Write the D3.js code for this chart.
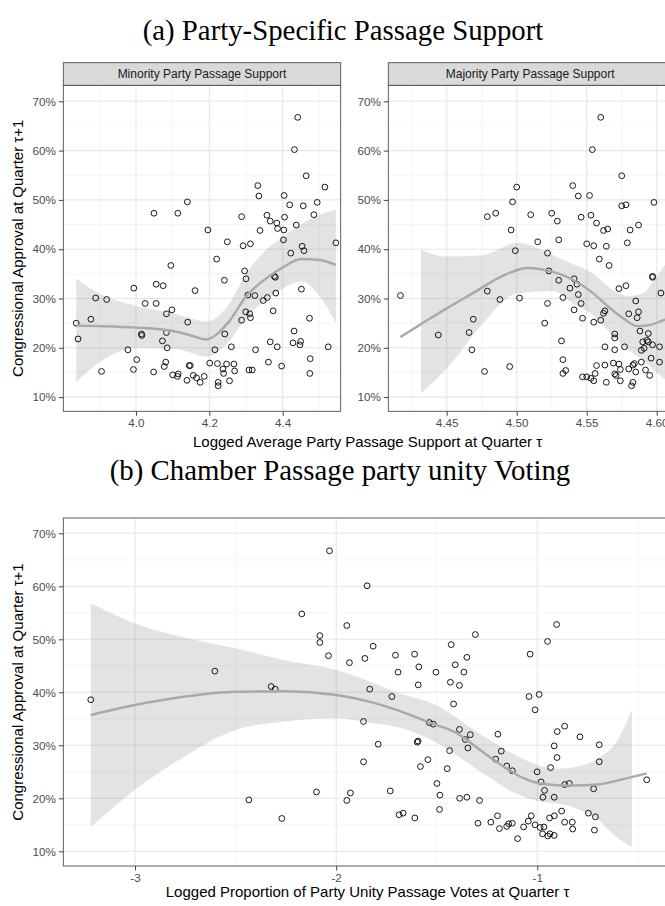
<!DOCTYPE html>
<html lang="en">
<head>
<meta charset="UTF-8">
<title>Congressional approval and passage support</title>
<style>
  body { margin: 0; background: #fff; }
  svg { display: block; }
</style>
</head>
<body>
<script src="https://d3js.org/d3.v7.min.js"></script>
<script>
// values: [x, approval %]
const minorityPoints = [
  [3.837,25.0],[3.842,21.8],[3.877,25.8],[3.890,30.1],[3.920,29.8],[3.906,15.2],[3.978,19.6],[3.994,32.1],
  [4.002,17.6],[3.993,15.6],[4.015,22.8],[4.016,22.5],[4.025,29.0],[4.055,32.9],[4.074,32.6],[4.055,29.0],
  [4.083,26.9],[4.098,27.7],[4.083,23.1],[4.072,21.4],[4.085,20.0],[4.048,15.1],[4.081,17.1],[4.077,16.2],
  [4.100,14.5],[4.115,14.7],[4.113,14.2],[4.141,25.2],[4.161,31.6],[4.145,16.4],[4.148,16.4],[4.139,13.4],
  [4.156,14.4],[4.165,13.9],[4.175,13.0],[4.186,14.2],[4.201,16.9],[4.215,19.6],[4.222,16.8],[4.224,13.0],
  [4.224,12.3],[4.237,15.7],[4.239,14.8],[4.242,22.8],[4.241,33.7],[4.247,16.7],[4.255,13.3],[4.260,20.2],
  [4.267,16.7],[4.269,15.3],[4.288,25.6],[4.296,35.6],[4.300,34.0],[4.299,27.3],[4.305,30.7],[4.310,26.9],
  [4.312,26.1],[4.308,15.5],[4.317,15.5],[4.324,30.6],[4.326,19.6],[4.347,29.6],[4.358,30.2],[4.361,17.1],
  [4.366,21.2],[4.374,27.5],[4.377,34.5],[4.380,34.3],[4.381,31.1],[4.385,20.2],[4.397,16.3],[4.428,21.0],
  [4.431,23.4],[4.451,31.9],[4.449,21.3],[4.447,20.6],[4.473,26.0],[4.475,17.8],[4.474,14.8],[4.524,20.2],
  [4.441,66.75],[4.432,60.2],[4.464,54.9],[4.515,52.6],[4.332,52.9],[4.335,50.8],[4.404,50.9],[4.419,49.0],
  [4.456,48.8],[4.494,49.5],[4.485,47.0],[4.049,47.3],[4.114,47.3],[4.140,49.6],[4.288,46.6],[4.357,46.9],
  [4.366,45.7],[4.384,45.3],[4.386,44.2],[4.403,43.9],[4.405,46.5],[4.437,44.9],[4.338,43.8],[4.196,43.9],
  [4.249,41.5],[4.292,40.7],[4.312,41.1],[4.402,41.9],[4.453,40.6],[4.458,39.7],[4.422,39.2],[4.545,41.3],
  [4.220,38.0],[4.095,36.7]
];

const majorityPoints = [
  [4.560,66.75],[4.554,60.2],[4.575,54.9],[4.598,49.5],[4.500,52.6],[4.540,52.9],[4.544,50.8],[4.552,50.9],
  [4.497,49.6],[4.575,48.8],[4.578,49.0],[4.479,46.6],[4.485,47.3],[4.510,47.0],[4.525,47.3],[4.529,45.7],
  [4.546,46.5],[4.553,46.9],[4.557,45.3],[4.496,43.9],[4.562,43.8],[4.565,44.1],[4.581,43.9],[4.587,44.9],
  [4.515,41.5],[4.530,41.9],[4.550,41.1],[4.555,40.7],[4.564,40.6],[4.579,41.3],[4.499,39.7],[4.522,39.2],
  [4.559,38.0],[4.566,36.7],
  [4.417,30.6],[4.444,22.6],[4.466,23.1],[4.469,25.8],[4.468,19.6],[4.477,15.2],[4.479,31.5],[4.488,29.8],
  [4.495,16.2],[4.502,30.1],[4.523,35.6],[4.530,33.7],[4.533,30.2],[4.520,25.0],[4.522,29.0],[4.532,21.4],
  [4.533,17.6],[4.535,15.4],[4.533,14.8],[4.538,32.1],[4.541,34.0],[4.543,32.9],[4.544,30.8],[4.541,27.7],
  [4.546,29.0],[4.547,26.0],[4.547,14.1],[4.550,14.1],[4.553,13.8],[4.555,13.3],[4.556,14.8],[4.557,16.4],
  [4.555,25.2],[4.560,25.6],[4.562,27.0],[4.563,27.5],[4.563,20.2],[4.563,16.5],[4.564,13.0],[4.570,22.8],
  [4.570,22.0],[4.570,19.6],[4.569,16.9],[4.570,14.7],[4.571,14.4],[4.573,32.0],[4.573,16.7],[4.574,15.6],
  [4.574,13.3],[4.577,20.2],[4.578,32.6],[4.580,26.9],[4.580,15.7],[4.582,12.3],[4.583,16.5],[4.584,16.8],
  [4.583,13.0],[4.585,15.1],[4.585,29.5],[4.586,26.1],[4.587,27.3],[4.588,23.4],[4.589,17.1],[4.589,19.5],
  [4.590,21.2],[4.591,19.9],[4.593,21.5],[4.592,15.5],[4.594,21.2],[4.594,22.9],[4.595,14.4],[4.596,17.9],
  [4.597,20.6],[4.597,34.5],[4.597,34.3],[4.602,20.2],[4.602,17.1],[4.603,31.1]
];

const unityPoints = [
  [-3.220,38.6],[-2.603,44.0],[-2.323,41.1],[-2.303,40.6],[-2.171,54.8],[-2.081,50.7],[-2.081,49.4],[-2.038,46.9],
  [-2.033,66.7],[-2.434,19.7],[-2.270,16.2],[-2.098,21.2],
  [-1.846,60.1],[-1.947,52.6],[-1.816,48.7],[-1.934,45.6],[-1.857,46.4],[-1.705,47.0],[-1.610,47.2],[-1.692,43.8],
  [-1.589,44.8],[-1.592,41.4],[-1.504,43.8],[-1.428,49.0],[-1.308,50.9],[-1.350,46.6],[-1.408,45.2],[-1.365,43.8],
  [-1.432,41.9],[-1.387,41.3],[-1.833,40.6],[-1.723,39.2],[-1.036,47.2],[-0.949,49.6],[-0.904,52.8],[-1.041,39.2],
  [-0.991,39.6],
  [-1.011,36.7],[-1.416,37.8],[-1.864,34.5],[-1.791,30.2],[-1.864,26.9],[-1.947,19.6],[-1.929,21.0],[-1.731,21.4],
  [-1.687,16.9],[-1.667,17.2],[-1.609,16.3],[-1.597,30.6],[-1.593,30.8],[-1.581,26.0],[-1.544,27.3],[-1.537,34.3],
  [-1.517,34.0],[-1.499,22.8],[-1.484,20.6],[-1.486,17.9],[-1.448,25.6],[-1.436,29.0],[-1.387,33.0],[-1.358,31.1],
  [-1.333,32.0],[-1.345,29.5],[-1.386,20.0],[-1.350,20.2],[-1.287,19.6],[-1.295,15.3],[-1.231,15.5],[-1.198,16.7],
  [-1.188,14.3],[-1.152,14.7],[-1.142,15.2],[-1.124,15.3],[-1.098,12.4],[-1.196,32.1],[-1.179,28.9],[-1.207,27.4],
  [-1.152,26.1],[-1.124,25.2],[-1.068,14.6],[-1.045,15.7],[-1.030,16.7],[-1.011,15.0],[-1.001,25.0],[-0.981,23.1],
  [-0.986,14.5],[-0.967,14.6],[-0.964,21.5],[-0.972,20.2],[-0.974,13.3],[-0.948,12.9],[-0.937,13.3],[-0.939,16.3],
  [-0.916,13.0],[-0.915,16.7],[-0.916,20.2],[-0.934,25.8],[-0.916,29.9],[-0.901,32.6],[-0.902,27.7],[-0.864,33.6],
  [-0.879,17.6],[-0.864,22.6],[-0.841,22.8],[-0.864,15.5],[-0.826,15.5],[-0.824,14.2],[-0.788,31.6],[-0.746,17.2],
  [-0.711,16.5],[-0.716,14.0],[-0.720,21.8],[-0.692,30.1],[-0.692,26.9],[-0.456,23.5]
];

// smoother (loess) lines and their ribbons
const minorityFitX = [3.837, 3.9, 4.0, 4.1, 4.15, 4.19, 4.25, 4.3, 4.35, 4.4, 4.45, 4.5, 4.545];
const minorityFit  = [24.5, 24.4, 24.1, 23.4, 22.5, 21.7, 25.0, 30.4, 33.8, 36.3, 38.0, 37.8, 36.8];
const minorityHi   = [34, 31, 28.5, 27, 26, 25.3, 28.5, 35, 39.5, 42.5, 45, 47, 48];
const minorityLo   = [13, 17, 20, 19.8, 19, 18.2, 21, 26, 29.5, 32, 33.5, 30.5, 25];

const majorityFitX = [4.417, 4.43, 4.45, 4.47, 4.49, 4.508, 4.52, 4.54, 4.555, 4.564, 4.576, 4.586, 4.595, 4.603, 4.611];
const majorityFit  = [22.2, 24.5, 28.0, 31.3, 34.6, 36.2, 35.8, 33.8, 31.0, 28.7, 26.0, 24.4, 24.6, 25.4, 26.3];
const majorityBandX = [4.4316, 4.45, 4.476, 4.50, 4.526, 4.54, 4.555, 4.565, 4.58, 4.59, 4.60, 4.611];
const majorityHi   = [39.9, 38.5, 38.8, 41.3, 38.8, 37.0, 35.0, 32.5, 30.5, 31.0, 34.5, 39];
const majorityLo   = [10.8, 15.8, 25.0, 31.0, 31.5, 29.0, 26.5, 23.5, 19.5, 17.5, 15.0, 12.5];

const unityFitX = [-3.22, -3.0, -2.75, -2.5, -2.25, -2.0, -1.83, -1.7, -1.53, -1.4, -1.284, -1.168, -1.069, -0.969, -0.836, -0.70, -0.587, -0.456];
const unityFit  = [35.7, 37.6, 39.2, 40.1, 40.2, 39.5, 38.2, 36.7, 34.2, 32.3, 29.1, 26.0, 23.8, 22.7, 22.4, 22.6, 23.5, 24.7];
const unityBandX = [-3.22, -3.0, -2.75, -2.5, -2.25, -2.0, -1.83, -1.7, -1.5, -1.3, -1.1, -1.0, -0.9, -0.8, -0.7, -0.6, -0.53];
const unityHi   = [56.8, 53.0, 50.3, 48.3, 46.0, 44.2, 42.0, 40.0, 37.5, 32.5, 28.0, 26.3, 25.6, 26.0, 27.5, 31.0, 36.7];
const unityLo   = [14.6, 21.6, 28.0, 32.9, 34.5, 35.1, 34.2, 33.5, 30.5, 25.5, 20.8, 19.5, 19.0, 18.0, 16.0, 12.5, 10.8];

const yTicks = [10, 20, 30, 40, 50, 60, 70];
const yMinor = [15, 25, 35, 45, 55, 65];
const minorityTicks = [4.0, 4.2, 4.4];
const minorityMinor = [3.9, 4.1, 4.3, 4.5];
const majorityTicks = [4.45, 4.50, 4.55, 4.60];
const majorityMinor = [4.425, 4.475, 4.525, 4.575];
const unityTicks = [-3, -2, -1];
const unityMinor = [-2.5, -1.5, -0.5];

const SANS = "'Liberation Sans', Arial, Helvetica, sans-serif";
const SERIF = "'Liberation Serif', 'Times New Roman', serif";

let svg = d3.select("body").append("svg")
    .attr("width", 665)
    .attr("height", 906);

function zip(xs, ys) { return xs.map((v, i) => [v, ys[i]]); }

function drawPanel(cfg) {
    let x = d3.scaleLinear().domain(cfg.xDomain).range([cfg.left, cfg.right]);
    let y = d3.scaleLinear().domain(cfg.yDomain).range([cfg.bottom, cfg.top]);
    let g = svg.append("g");

    g.append("clipPath").attr("id", "clip-" + cfg.id)
      .append("rect")
        .attr("x", cfg.left).attr("y", cfg.top)
        .attr("width", cfg.right - cfg.left).attr("height", cfg.bottom - cfg.top);

    let plot = g.append("g").attr("clip-path", "url(#clip-" + cfg.id + ")");

    // grid: minor first, then major
    plot.selectAll(".gx-minor").data(cfg.xMinor).enter().append("line")
        .attr("x1", d => x(d)).attr("x2", d => x(d))
        .attr("y1", cfg.top).attr("y2", cfg.bottom)
        .attr("stroke", "#f2f2f2").attr("stroke-width", 0.8);
    plot.selectAll(".gy-minor").data(yMinor).enter().append("line")
        .attr("x1", cfg.left).attr("x2", cfg.right)
        .attr("y1", d => y(d)).attr("y2", d => y(d))
        .attr("stroke", "#f2f2f2").attr("stroke-width", 0.8);
    plot.selectAll(".gx").data(cfg.xTicks).enter().append("line")
        .attr("x1", d => x(d)).attr("x2", d => x(d))
        .attr("y1", cfg.top).attr("y2", cfg.bottom)
        .attr("stroke", "#e6e6e6").attr("stroke-width", 1.1);
    plot.selectAll(".gy").data(yTicks).enter().append("line")
        .attr("x1", cfg.left).attr("x2", cfg.right)
        .attr("y1", d => y(d)).attr("y2", d => y(d))
        .attr("stroke", "#e6e6e6").attr("stroke-width", 1.1);

    // ribbon
    let area = d3.area()
        .x(d => x(d[0])).y0(d => y(d[1])).y1(d => y(d[2]))
        .curve(d3.curveMonotoneX);
    plot.append("path")
        .datum(cfg.bandX.map((v, i) => [v, cfg.lo[i], cfg.hi[i]]))
        .attr("d", area)
        .attr("fill", "#808080").attr("fill-opacity", 0.22);

    // points
    plot.selectAll("circle").data(cfg.points).enter().append("circle")
        .attr("cx", d => x(d[0]))
        .attr("cy", d => y(d[1]))
        .attr("r", 2.9)
        .attr("fill", "none")
        .attr("stroke", "#000")
        .attr("stroke-width", 0.9);

    // smooth line
    let line = d3.line().x(d => x(d[0])).y(d => y(d[1])).curve(d3.curveMonotoneX);
    plot.append("path")
        .datum(zip(cfg.fitX, cfg.fit))
        .attr("d", line)
        .attr("fill", "none")
        .attr("stroke", "#a9a9a9")
        .attr("stroke-width", 2.4);

    // border
    g.append("rect")
        .attr("x", cfg.left).attr("y", cfg.top)
        .attr("width", cfg.right - cfg.left).attr("height", cfg.bottom - cfg.top)
        .attr("fill", "none").attr("stroke", "#4d4d4d").attr("stroke-width", 0.9);

    // axes
    let xAxis = g.append("g")
        .attr("transform", "translate(0," + cfg.bottom + ")")
        .call(d3.axisBottom(x).tickValues(cfg.xTicks).tickFormat(cfg.xFormat)
              .tickSize(4.5).tickSizeOuter(0).tickPadding(3));
    let yAxis = g.append("g")
        .attr("transform", "translate(" + cfg.left + ",0)")
        .call(d3.axisLeft(y).tickValues(yTicks).tickFormat(d => d + "%")
              .tickSize(4.5).tickSizeOuter(0).tickPadding(3));
    [xAxis, yAxis].forEach(a => {
        a.select(".domain").remove();
        a.selectAll(".tick line").attr("stroke", "#333").attr("stroke-width", 0.9);
        a.selectAll(".tick text")
            .attr("fill", "#4d4d4d")
            .style("font-family", SANS)
            .style("font-size", "11.7px");
    });

    // facet strip
    if (cfg.strip) {
        g.append("rect")
            .attr("x", cfg.left).attr("y", cfg.top - 22.6)
            .attr("width", cfg.right - cfg.left).attr("height", 22.6)
            .attr("fill", "#d9d9d9").attr("stroke", "#4d4d4d").attr("stroke-width", 0.9);
        g.append("text")
            .attr("x", (cfg.left + cfg.right) / 2).attr("y", cfg.top - 11.3)
            .attr("dy", "0.35em")
            .attr("text-anchor", "middle")
            .attr("fill", "#1a1a1a")
            .style("font-family", SANS).style("font-size", "12px")
            .text(cfg.strip);
    }
}

// ---- (a) ----
drawPanel({
    id: "minority", strip: "Minority Party Passage Support",
    left: 63.3, right: 340.7, top: 85.3, bottom: 411.3,
    xDomain: [3.8018, 4.5581], yDomain: [7.12, 73.25],
    xTicks: minorityTicks, xMinor: minorityMinor, xFormat: d3.format(".1f"),
    points: minorityPoints,
    fitX: minorityFitX, fit: minorityFit,
    bandX: minorityFitX, hi: minorityHi, lo: minorityLo
});
drawPanel({
    id: "majority", strip: "Majority Party Passage Support",
    left: 388.3, right: 672, top: 85.3, bottom: 411.3,
    xDomain: [4.4083, 4.6109], yDomain: [7.12, 73.25],
    xTicks: majorityTicks, xMinor: majorityMinor, xFormat: d3.format(".2f"),
    points: majorityPoints,
    fitX: majorityFitX, fit: majorityFit,
    bandX: majorityBandX, hi: majorityHi, lo: majorityLo
});

// ---- (b) ----
drawPanel({
    id: "unity", strip: null,
    left: 63.3, right: 672, top: 518, bottom: 866,
    xDomain: [-3.3565, -0.3303], yDomain: [7.23, 72.89],
    xTicks: unityTicks, xMinor: unityMinor, xFormat: d => d3.format("d")(d).replace("−", "-"),
    points: unityPoints,
    fitX: unityFitX, fit: unityFit,
    bandX: unityBandX, hi: unityHi, lo: unityLo
});

// titles and axis labels
svg.append("text")
    .attr("x", 343).attr("y", 40)
    .attr("text-anchor", "middle")
    .style("font-family", SERIF).style("font-size", "28.8px")
    .text("(a) Party-Specific Passage Support");
svg.append("text")
    .attr("x", 340).attr("y", 480)
    .attr("text-anchor", "middle")
    .style("font-family", SERIF).style("font-size", "28.8px")
    .text("(b) Chamber Passage party unity Voting");

svg.append("text")
    .attr("x", 367.6).attr("y", 447)
    .attr("text-anchor", "middle")
    .style("font-family", SANS).style("font-size", "15px")
    .text("Logged Average Party Passage Support at Quarter \u03c4");
svg.append("text")
    .attr("x", 367.6).attr("y", 897)
    .attr("text-anchor", "middle")
    .style("font-family", SANS).style("font-size", "15px")
    .text("Logged Proportion of Party Unity Passage Votes at Quarter \u03c4");

[[248.3], [692]].forEach(([cy]) => {
    svg.append("text")
        .attr("transform", "translate(23," + cy + ") rotate(-90)")
        .attr("text-anchor", "middle")
        .style("font-family", SANS).style("font-size", "15px")
        .text("Congressional Approval at Quarter \u03c4+1");
});
</script>
</body>
</html>
